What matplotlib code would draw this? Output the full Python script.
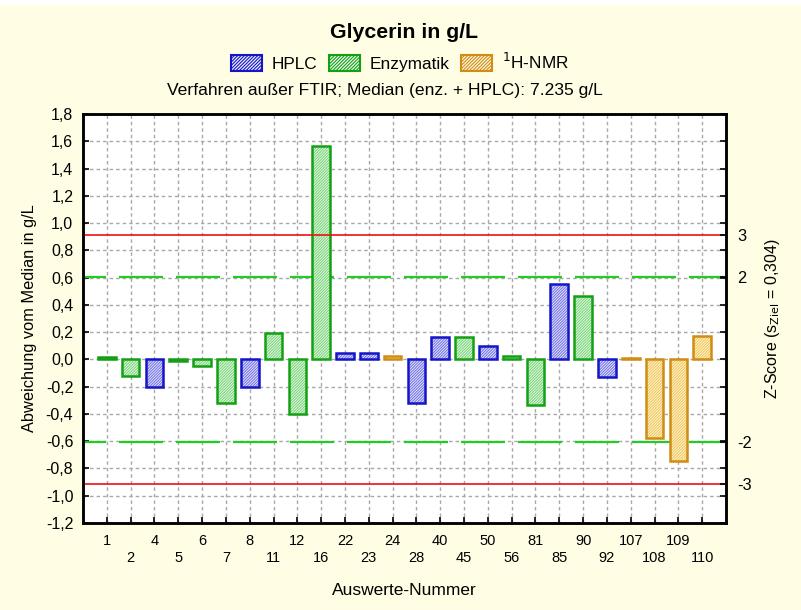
import matplotlib
matplotlib.use("Agg")
import matplotlib.pyplot as plt
import numpy as np
from matplotlib.patches import Patch

plt.rcParams['font.family'] = ['Liberation Sans', 'DejaVu Sans']
plt.rcParams['hatch.linewidth'] = 0.8
plt.rcParams['lines.scale_dashes'] = False

labs = ["1", "2", "4", "5", "6", "7", "8", "11", "12", "16", "22", "23", "24", "28",
        "40", "45", "50", "56", "81", "85", "90", "92", "107", "108", "109", "110"]
vals = [0.015, -0.125, -0.205, -0.015, -0.045, -0.317, -0.205, 0.19, -0.40, 1.565,
        0.044, 0.044, 0.025, -0.317, 0.163, 0.163, 0.095, 0.024, -0.337, 0.553,
        0.463, -0.127, 0.012, -0.576, -0.746, 0.171]
meth = ["E", "E", "H", "E", "E", "E", "H", "E", "E", "E",
        "H", "H", "N", "H", "H", "E", "H", "E", "E", "H",
        "E", "H", "N", "N", "N", "N"]
s_ziel = 0.304
method_names = {"H": "HPLC", "E": "Enzymatik", "N": "$^{1}$H-NMR"}

edge = {"H": "#1414c8", "E": "#14a014", "N": "#d08c14"}
hatchc = {"H": "#7474ea", "E": "#7ad67a", "N": "#f2c658"}
face = {"H": "#eeeefc", "E": "#eefaee", "N": "#fff9e4"}

W, H = 801, 610
fig = plt.figure(figsize=(W/100, H/100), dpi=100, facecolor="#fffde3")
fig.patches.append(plt.Rectangle((0, 1-5/H), 1, 5/H, transform=fig.transFigure,
                                 facecolor="white", edgecolor="none", zorder=-1))
ax = fig.add_axes([83/W, 1-523/H, (726-83)/W, (523-114)/H])
ax.set_facecolor("white")

x = np.arange(1, len(vals)+1)
ax.set_xlim(0, len(vals)+1)
ax.set_ylim(-1.2, 1.8)

px = 0.72  # points per pixel at dpi 100
# reference lines
for s in (1, -1):
    ax.axhline(s*2*s_ziel, color="#22cc22", lw=1.6, zorder=1,
               linestyle=(21*px, (44*px, 13*px)))
    ax.axhline(s*3*s_ziel, color="#ee1111", lw=1.2, zorder=3)

for xi, v, m in zip(x, vals, meth):
    ax.bar(xi, v, width=0.74, color=face[m], edgecolor=hatchc[m], hatch="////////////",
           linewidth=0, zorder=2)
    ax.bar(xi, v, width=0.74, fill=False, edgecolor=edge[m], linewidth=1.8, zorder=2.5)

yt = np.round(np.arange(-1.2, 1.81, 0.2), 1)
ax.set_yticks(yt)
ax.set_yticklabels([f"{t:.1f}".replace(".", ",").replace("-0,0", "0,0") for t in yt],
                   fontsize=11.5)
ax.set_xticks(x)
ax.set_xticklabels([])
ax.tick_params(axis="both", direction="in", length=4, width=1.2, colors="black")
ax.tick_params(axis="y", pad=7)
ax.grid(True, color="#a8a8a8", lw=1.0, linestyle=(0, (2.5, 2.2)))
ax.set_axisbelow(True)
for sp in ax.spines.values():
    sp.set_linewidth(1.8)

# staggered x labels
for i, (xi, l) in enumerate(zip(x, labs)):
    ax.annotate(l, xy=(xi, 0), xycoords=("data", "axes fraction"),
                xytext=(0, -13 if i % 2 == 0 else -25), textcoords="offset points",
                ha="center", va="center", fontsize=10.5)

ax.set_xlabel("Auswerte-Nummer", fontsize=12.5, labelpad=40)
ax.set_ylabel("Abweichung vom Median in g/L", fontsize=11.8, labelpad=6)

# right z-score axis
ax2 = ax.twinx()
ax2.set_ylim(ax.get_ylim())
zt = [-3, -2, 2, 3]
ax2.set_yticks([z*s_ziel for z in zt])
ax2.set_yticklabels([str(z) for z in zt], fontsize=11.8)
ax2.set_yticks(yt, minor=True)
ax2.tick_params(axis="y", which="both", direction="in", length=4, width=1.2, pad=8)
ax2.set_ylabel("Z-Score (s$_{\\mathrm{Ziel}}$ = 0,304)", fontsize=11.5, labelpad=8)
for sp in ax2.spines.values():
    sp.set_linewidth(1.8)

fig.text(404/W, 1-33/H, "Glycerin in g/L", ha="center", va="center",
         fontsize=15.3, fontweight="bold")
fig.text(385/W, 1-91/H, "Verfahren außer FTIR; Median (enz. + HPLC): 7.235 g/L",
         ha="center", va="center", fontsize=12.6)

handles = [Patch(facecolor=face[k], edgecolor=edge[k], hatch="//////////", linewidth=1.5,
                 label=method_names[k]) for k in ("H", "E", "N")]
leg = fig.legend(handles=handles, loc="center", bbox_to_anchor=(400/W, 1-62/H), ncol=3,
                 frameon=False, fontsize=12.4, handlelength=1.8, handleheight=1.1,
                 handletextpad=0.6, columnspacing=0.65)

fig.savefig("out.png", dpi=100, facecolor=fig.get_facecolor())
